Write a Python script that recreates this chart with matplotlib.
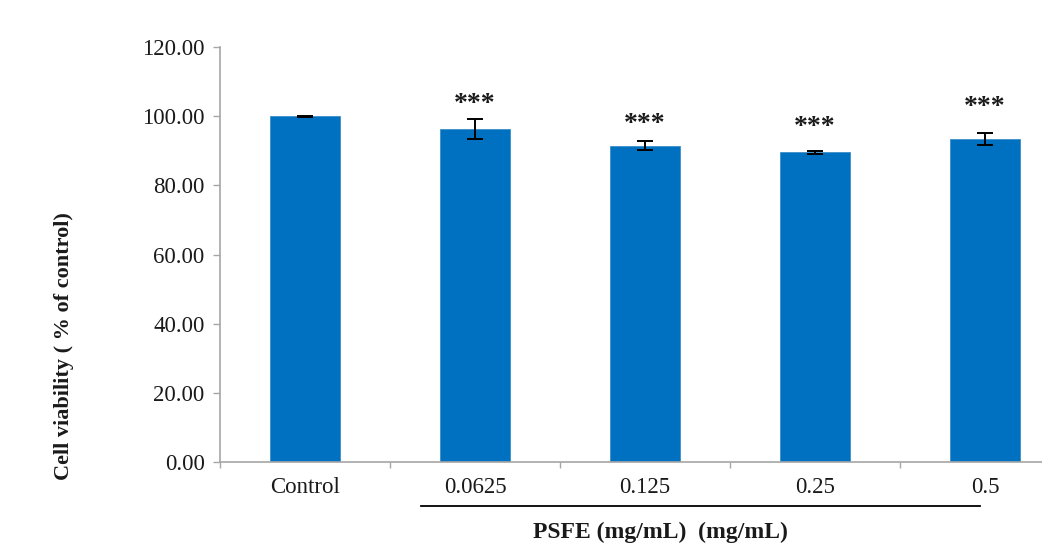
import matplotlib
matplotlib.use("Agg")
import matplotlib.pyplot as plt
from matplotlib.transforms import blended_transform_factory

categories = ["Control", "0.0625", "0.125", "0.25", "0.5"]
viability = [100.0, 96.2, 91.5, 89.6, 93.4]
sem = [0.1, 2.9, 1.35, 0.4, 1.6]
significance = ["", "***", "***", "***", "***"]
star_baseline = [None, 101.6, 95.8, 94.9, 100.5]
yticks = [0, 20, 40, 60, 80, 100, 120]

plt.rcParams["font.family"] = ["Liberation Serif", "DejaVu Serif"]
text_color = "#1a1a1a"
axis_color = "#a6a6a6"

fig = plt.figure(figsize=(10.42, 5.45), dpi=100)
ax = fig.add_axes([220 / 1042, 83 / 545, 850 / 1042, 415 / 545])

x = list(range(len(categories)))
ax.bar(x, viability, width=0.41, color="#0070C0", edgecolor="#3b8fc9",
       linewidth=0.6, zorder=2)
ax.errorbar(x, viability, yerr=sem, fmt="none", ecolor="black",
            elinewidth=1.4, capsize=5.5, capthick=1.4, zorder=3)

for xi, label, yb in zip(x, significance, star_baseline):
    if label:
        ax.text(xi, yb, label, ha="center", va="baseline", fontsize=20,
                fontweight="bold", color=text_color)

ax.set_xlim(-0.5, len(categories) - 0.5)
ax.set_ylim(0, 120)
ax.set_yticks(yticks)
ax.set_yticklabels([f"{v:.2f}" for v in yticks], fontsize=16.5, color=text_color)
ax.set_xticks(x)
ax.set_xticklabels(categories, fontsize=16.5, color=text_color)
ax.set_xticks([i - 0.5 for i in range(len(categories))], minor=True)

ax.tick_params(axis="y", length=5, width=1, color=axis_color, pad=6)
ax.tick_params(axis="x", which="major", length=0, pad=11)
ax.tick_params(axis="x", which="minor", length=4.5, width=1, color=axis_color)

for side in ("top", "right"):
    ax.spines[side].set_visible(False)
for side in ("left", "bottom"):
    ax.spines[side].set_color(axis_color)
    ax.spines[side].set_linewidth(1.2)

ax.set_ylabel("Cell viability ( % of control)", fontsize=16, fontweight="bold",
              color=text_color)
ax.yaxis.set_label_coords(-0.172, 0.28)

# bracket line under the PSFE concentrations
trans = blended_transform_factory(ax.transData, fig.transFigure)
ax.plot([0.68, 3.97], [39 / 545, 39 / 545], transform=trans, color="black",
        linewidth=1.3, clip_on=False)
fig.text(660 / 1042, 2 / 545, "PSFE (mg/mL)  (mg/mL)", ha="center",
         va="bottom", fontsize=17, fontweight="bold", color=text_color)

fig.savefig("out.png", dpi=100)
